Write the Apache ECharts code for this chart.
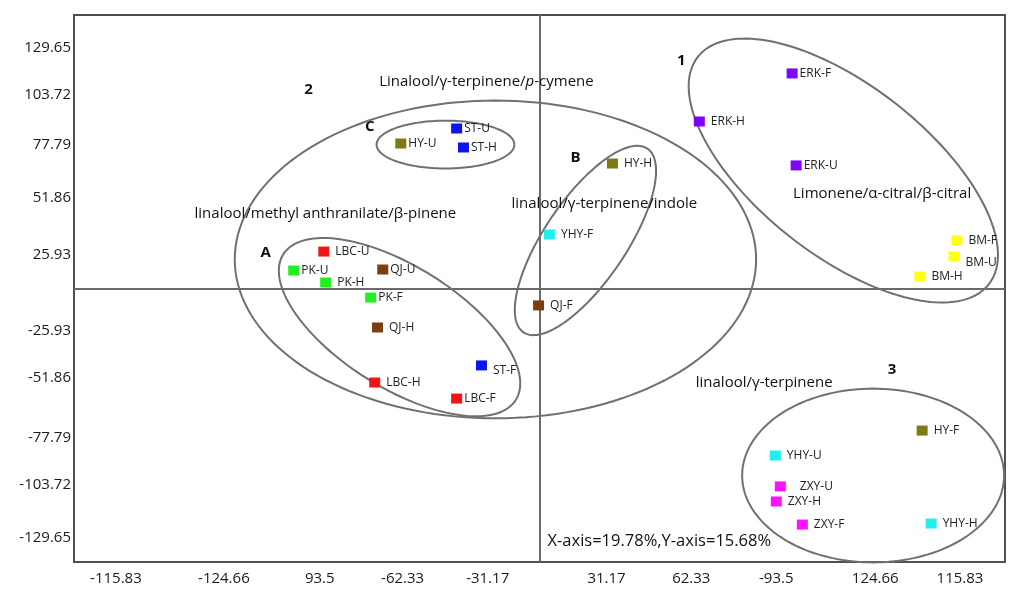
<!DOCTYPE html>
<html>
<head>
<meta charset="utf-8">
<script src="https://cdn.jsdelivr.net/npm/echarts@6/dist/echarts.min.js"></script>
<style>
html,body{margin:0;padding:0;background:#fff;}
#chart{width:1024px;height:596px;}
</style>
</head>
<body>
<div id="chart"></div>
<script>
// ---- data ----
const sampleNames = ['ST-U','ST-H','ST-F','HY-U','HY-H','HY-F','LBC-U','LBC-H','LBC-F','PK-U','PK-H','PK-F','QJ-U','QJ-H','QJ-F','YHY-U','YHY-H','YHY-F','ERK-U','ERK-H','ERK-F','BM-U','BM-H','BM-F','ZXY-U','ZXY-H','ZXY-F'];
const pc1 = [-26.7,-24.5,-18.7,-44.7,23.5,123.3,-69.5,-53.1,-26.7,-79.2,-68.9,-54.4,-50.5,-52.2,-0.3,76.0,126.2,3.2,82.7,51.5,81.4,133.6,122.6,134.5,77.6,76.3,84.7];
const pc2 = [93.6,82.5,-45.0,84.8,73.1,-83.1,21.6,-55.0,-64.4,10.5,3.5,-5.3,11.1,-22.8,-9.9,-97.7,-137.5,31.6,72.0,97.7,125.8,18.7,7.0,28.1,-115.8,-124.6,-138.1];
const groups = ['ST','HY','LBC','PK','QJ','YHY','ERK','BM','ZXY'];

const xTickLabels = ['-115.83','-124.66','93.5','-62.33','-31.17','31.17','62.33','-93.5','124.66','115.83'];
const yTickLabels = ['129.65','103.72','77.79','51.86','25.93','-25.93','-51.86','-77.79','-103.72','-129.65'];

// cluster ellipses: centre x, centre y, semi-axes (x units), tilt (deg on screen)
const ellipseCx = [97.9,-14.2,-30.3,-45.1,14.8,107.5];
const ellipseCy = [69.0,17.0,84.2,-22.6,28.1,-109.4];
const ellipseA  = [59.5,84.0,22.2,44.2,35.7,42.2];
const ellipseB  = [27.4,51.2,7.7,19.6,13.2,28.0];
const ellipseTilt = [38,0,0,32,-56,0];

const noteTexts = ['1','2','3','A','B','C',
  'Linalool/γ-terpinene/{i|p}-cymene','linalool/methyl anthranilate/β-pinene',
  'linalool/γ-terpinene/indole','Limonene/α-citral/β-citral','linalool/γ-terpinene',
  'X-axis=19.78%,Y-axis=15.68%'];

// ---- layout / style ----
const xTickPos = [-136.5,-101.7,-70.8,-44.1,-16.7,21.6,48.9,76.3,108.2,135.5];
const yTickPos = [141.0,113.5,84.2,53.2,19.9,-24.6,-52.1,-87.2,-114.7,-145.7];
const noteX = [45.7,-74.4,113.6,-88.2,11.6,-54.7,-17.1,-69.0,20.9,110.4,72.4,38.6];
const noteY = [133.4,116.4,-47.4,21.1,76.6,94.8,121.1,43.9,49.7,55.6,-55.0,-148.0];
const noteSize = [15,15,15,15,15,15,15,15,15,15,15,16.5];
const groupColors = {ST:'#0c14f2',HY:'#7c7a12',LBC:'#f41212',PK:'#22ee22',QJ:'#7d3d0c',YHY:'#22eeee',ERK:'#7d05fb',BM:'#ffff12',ZXY:'#ff10ff'};
const labelGap = {'ST-U':2,'ST-H':2,'HY-U':2,'QJ-U':2,'PK-U':2,'PK-F':2,'LBC-F':2,'ERK-F':2,'ERK-U':2,'ZXY-U':14};
const labelDrop = {'ST-F':5,'BM-U':6};
const FONT = 'Open Sans';

function nearestLabel(v, pos, labels){
  let bi=0, bd=1e9;
  pos.forEach((p,i)=>{const d=Math.abs(p-v); if(d<bd){bd=d;bi=i;}});
  return labels[bi];
}

const scatterSeries = groups.map((g, gi) => {
  const data = [];
  sampleNames.forEach((n, i) => {
    if (n.split('-')[0] === g) {
      data.push({name:n, value:[pc1[i], pc2[i]],
        label:{distance: (labelGap[n] !== undefined ? labelGap[n] : 6),
               offset:[0, labelDrop[n] || 0]}});
    }
  });
  const s = {
    type:'scatter', name:g, data, symbol:'rect', symbolSize:[11,10], z:5,
    itemStyle:{color:groupColors[g], opacity:1},
    label:{show:true, position:'right', formatter:'{b}', fontSize:12, fontFamily:FONT, color:'#222'},
    emphasis:{disabled:true}
  };
  if (gi === 0) {
    s.markLine = {silent:true, symbol:['none','none'], label:{show:false},
      lineStyle:{color:'#6a6a6a', width:2, type:'solid'},
      data:[{xAxis:0},{yAxis:0}], z:2};
  }
  return s;
});

const ellipseData = ellipseCx.map((c,i)=>[c, ellipseCy[i], ellipseA[i], ellipseB[i], ellipseTilt[i]]);
const noteData = noteTexts.map((t,i)=>[noteX[i], noteY[i], i]);

const option = {
  backgroundColor:'#fff',
  animation:false,
  grid:{left:74, top:15, width:931, height:547, show:true, borderColor:'#505050', borderWidth:2},
  xAxis:{type:'value', min:-150, max:150,
    axisLine:{show:false}, axisTick:{show:false}, splitLine:{show:false},
    axisLabel:{customValues:xTickPos, margin:9, fontSize:15, fontFamily:FONT, color:'#1a1a1a',
      formatter:(v)=>nearestLabel(v, xTickPos, xTickLabels)}},
  yAxis:{type:'value', min:-160, max:160,
    axisLine:{show:false}, axisTick:{show:false}, splitLine:{show:false},
    axisLabel:{customValues:yTickPos, margin:3, fontSize:15, fontFamily:FONT, color:'#1a1a1a',
      formatter:(v)=>nearestLabel(v, yTickPos, yTickLabels)}},
  series:[
    {type:'custom', name:'clusters', z:3, silent:true, clip:false,
      data:ellipseData, encode:{x:0,y:1},
      renderItem:(params, api)=>{
        const c = api.coord([api.value(0), api.value(1)]);
        const u = api.size([1,0])[0];
        const a = api.value(2)*u, b = api.value(3)*u;
        const ang = api.value(4)*Math.PI/180;
        const pts = [];
        for (let k=0;k<=160;k++){
          const t = k/160*2*Math.PI;
          const x = a*Math.cos(t), y = b*Math.sin(t);
          pts.push([c[0] + x*Math.cos(ang) - y*Math.sin(ang), c[1] + x*Math.sin(ang) + y*Math.cos(ang)]);
        }
        return {type:'polyline', shape:{points:pts}, style:{fill:null, stroke:'#707070', lineWidth:2}};
      }},
    {type:'custom', name:'notes', z:4, silent:true, clip:false,
      data:noteData, encode:{x:0,y:1},
      renderItem:(params, api)=>{
        const c = api.coord([api.value(0), api.value(1)]);
        const idx = api.value(2);
        const bold = idx < 6;
        return {type:'text', x:c[0], y:c[1], style:{
          text:noteTexts[idx], align:'center', verticalAlign:'middle',
          fontSize: noteSize[idx], fontWeight: bold ? 'bold' : 'normal',
          fontFamily:FONT, fill:'#111',
          rich:{i:{fontStyle:'italic', fontSize:noteSize[idx], fontFamily:FONT, fill:'#111'}}
        }};
      }},
    ...scatterSeries
  ]
};

const chart = echarts.init(document.getElementById('chart'));
chart.setOption(option);
</script>
</body>
</html>
